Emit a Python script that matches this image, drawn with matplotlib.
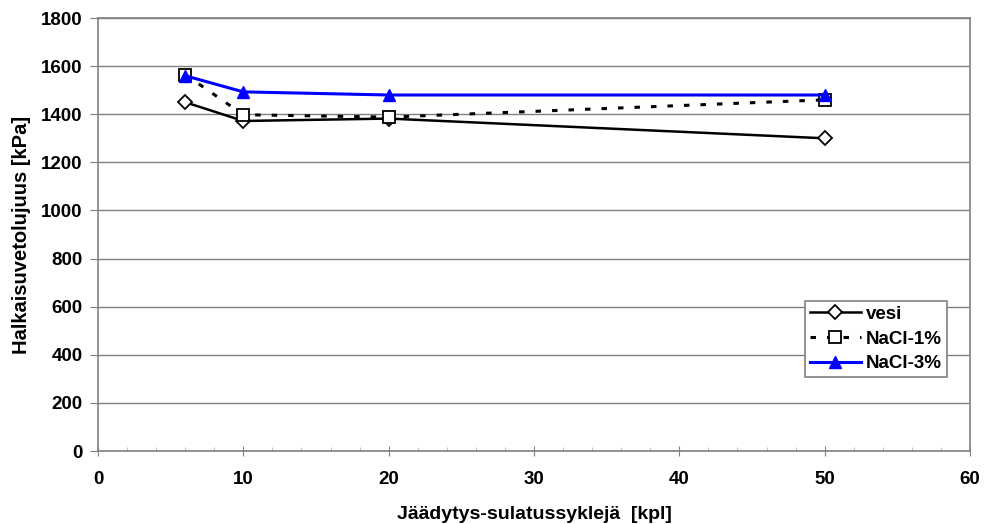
import matplotlib
matplotlib.use('Agg')
import matplotlib.pyplot as plt
from matplotlib.ticker import MultipleLocator

plt.rcParams['font.family'] = ['Liberation Sans', 'DejaVu Sans']
plt.rcParams['font.weight'] = 'bold'

cycles = [6, 10, 20, 50]
vesi = [1450, 1372, 1382, 1300]
nacl1 = [1565, 1398, 1388, 1460]
nacl3 = [1560, 1493, 1480, 1480]

fig = plt.figure(figsize=(9.86, 5.24), dpi=100)
ax = fig.add_axes([0.0994, 0.1393, 0.8844, 0.8263])

ax.plot(cycles, vesi, '-', color='black', lw=1.8, marker='D', ms=7.5,
        mfc='white', mec='black', mew=1.3, label='vesi')
ax.plot(cycles, nacl1, color='black', lw=2.2, ls=(0, (1.8, 3.6)), marker='s', ms=8.5,
        mfc='white', mec='black', mew=1.3, label='NaCl-1%')
ax.plot(cycles, nacl3, '-', color='#0000ff', lw=2.2, marker='^', ms=8.5,
        mfc='#0000ff', mec='#0000ff', label='NaCl-3%')

ax.set_xlim(0, 60)
ax.set_ylim(0, 1800)
ax.set_xticks(range(0, 61, 10))
ax.set_yticks(range(0, 1801, 200))
ax.xaxis.set_minor_locator(MultipleLocator(2))
ax.yaxis.grid(True, color='#808080', lw=1)
ax.set_axisbelow(True)
for s in ax.spines.values():
    s.set_color('#808080')
    s.set_linewidth(1.2)
ax.tick_params(colors='#808080', labelcolor='black', labelsize=13.5)
ax.tick_params(axis='y', length=6, direction='out', pad=5)
ax.tick_params(axis='x', which='major', length=7, direction='inout', pad=11)
ax.tick_params(axis='x', which='minor', length=3, direction='in', color='#b0b0b0')

ax.set_xlabel('Jäädytys-sulatussyklejä  [kpl]', fontsize=14, fontweight='bold', labelpad=13)
ax.set_ylabel('Halkaisuvetolujuus [kPa]', fontsize=14.5, fontweight='bold', labelpad=7)

leg = ax.legend(loc='lower left', bbox_to_anchor=(0.811, 0.171), fontsize=13.5,
                frameon=True, fancybox=False, edgecolor='#808080', framealpha=1,
                handlelength=2.7, borderpad=0.25, borderaxespad=0,
                labelspacing=0.4, handletextpad=0.3)
leg.get_frame().set_linewidth(1.2)

fig.savefig('out.png', dpi=100)
